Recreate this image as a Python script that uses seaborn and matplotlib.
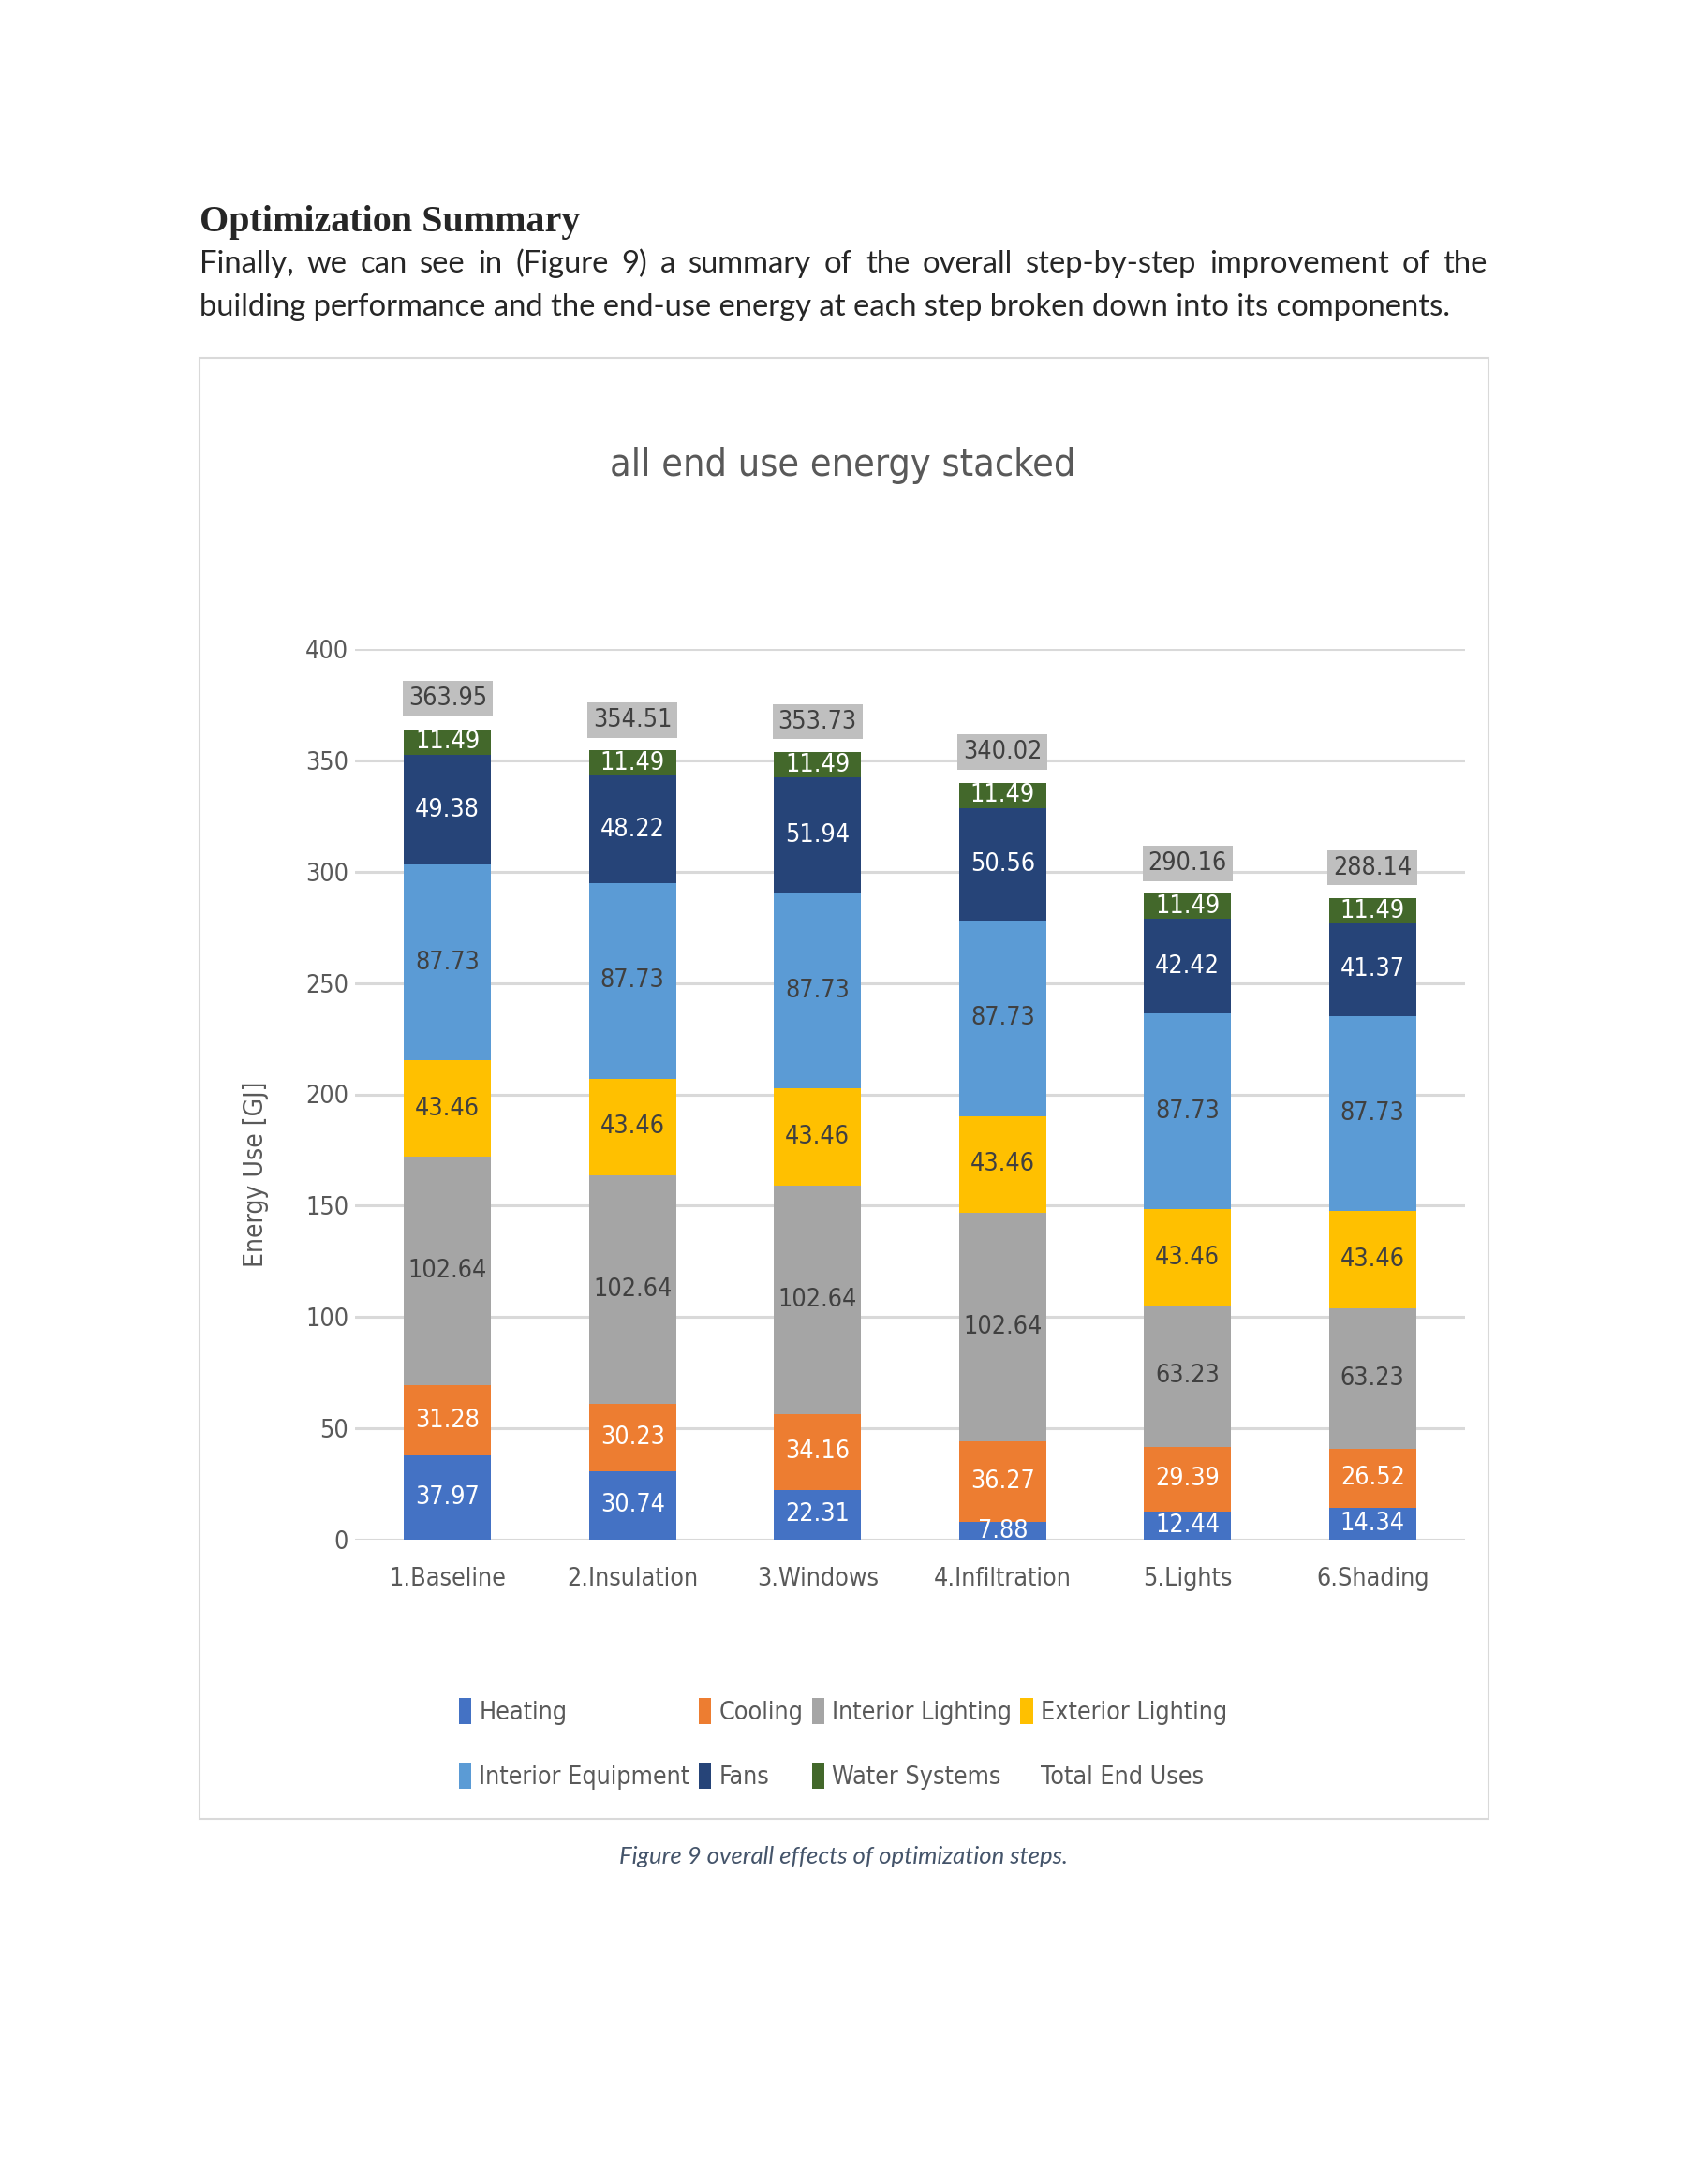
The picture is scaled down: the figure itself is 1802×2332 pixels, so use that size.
import pandas as pd
import matplotlib
matplotlib.use("Agg")
import matplotlib.pyplot as plt
from matplotlib import font_manager as fm
from matplotlib.patches import Patch, Rectangle
import seaborn as sns

# -----------------------------------------------------------
# DATA
# -----------------------------------------------------------
steps = ["1.Baseline", "2.Insulation", "3.Windows", "4.Infiltration", "5.Lights", "6.Shading"]
heating = [37.97, 30.74, 22.31, 7.88, 12.44, 14.34]
cooling = [31.28, 30.23, 34.16, 36.27, 29.39, 26.52]
interior_lighting = [102.64, 102.64, 102.64, 102.64, 63.23, 63.23]
exterior_lighting = [43.46, 43.46, 43.46, 43.46, 43.46, 43.46]
interior_equipment = [87.73, 87.73, 87.73, 87.73, 87.73, 87.73]
fans = [49.38, 48.22, 51.94, 50.56, 42.42, 41.37]
water_systems = [11.49, 11.49, 11.49, 11.49, 11.49, 11.49]
total_end_uses = [363.95, 354.51, 353.73, 340.02, 290.16, 288.14]

components = ["Heating", "Cooling", "Interior Lighting", "Exterior Lighting",
              "Interior Equipment", "Fans", "Water Systems"]
colors = ["#4472C4", "#ED7D31", "#A5A5A5", "#FFC000", "#5B9BD5", "#264478", "#43682B"]
label_colors = ["white", "white", "#404040", "#404040", "#404040", "white", "white"]
yticks = [0, 50, 100, 150, 200, 250, 300, 350, 400]

heading = "Optimization Summary"
line1 = "Finally, we can see in (Figure 9) a summary of the overall step-by-step improvement of the"
line2 = "building performance and the end-use energy at each step broken down into its components."
caption = "Figure 9 overall effects of optimization steps."

df = pd.DataFrame({"step": steps, "Heating": heating, "Cooling": cooling,
                   "Interior Lighting": interior_lighting,
                   "Exterior Lighting": exterior_lighting,
                   "Interior Equipment": interior_equipment,
                   "Fans": fans, "Water Systems": water_systems})
cum = df[components].cumsum(axis=1)

# -----------------------------------------------------------
# FIGURE SETUP
# -----------------------------------------------------------
W, H, DPI = 1802, 2332, 100
sns.set_style("white")

installed = {f.name for f in fm.fontManager.ttflist}
if "Liberation Sans Narrow" in installed:
    chart_family, chart_stretch = "Liberation Sans Narrow", "normal"
else:
    chart_family, chart_stretch = "DejaVu Sans", "condensed"
plt.rcParams["font.family"] = [chart_family, "DejaVu Sans"]
plt.rcParams["font.stretch"] = chart_stretch

fig = plt.figure(figsize=(W / DPI, H / DPI), dpi=DPI)
fig.patch.set_facecolor("white")
renderer = fig.canvas.get_renderer()


def px(x, y):
    # page pixels (top-left origin) -> figure fraction
    return x / W, 1 - y / H


def text_width(s, size, **kw):
    t = fig.text(0, 0, s, fontsize=size, **kw)
    w = t.get_window_extent(renderer).width
    t.remove()
    return w


def fit(s, target, **kw):
    return 10 * target / text_width(s, 10, **kw)


body_kw = dict(family=["Lato", "DejaVu Sans"], stretch="normal")
head_kw = dict(family=["Liberation Serif", "DejaVu Serif"], weight="bold", stretch="normal")
cap_kw = dict(family=["Lato", "DejaVu Sans"], style="italic", stretch="normal")

cs = fit("102.64", 84)
ts = fit("all end use energy stacked", 500)
bs = fit(line2, 1339, **body_kw)
hs = fit(heading, 409, **head_kw)
caps = fit(caption, 479, **cap_kw)
gray = "#595959"

# -----------------------------------------------------------
# PAGE TEXT
# -----------------------------------------------------------
fig.text(*px(213, 247), heading, fontsize=hs, va="baseline", ha="left", **head_kw)

words = line1.split()
widths = [text_width(w, bs, **body_kw) for w in words]
gap = (1375 - sum(widths)) / (len(words) - 1)
x = 213
for w, wd in zip(words, widths):
    fig.text(*px(x, 291), w, fontsize=bs, va="baseline", ha="left", **body_kw)
    x += wd + gap
fig.text(*px(213, 337), line2, fontsize=bs, va="baseline", ha="left", **body_kw)

fig.add_artist(Rectangle(px(213, 1942), 1376 / W, 1560 / H, transform=fig.transFigure,
                         fill=False, edgecolor="#D9D9D9", lw=1.5))
fig.text(*px(900, 497), "all end use energy stacked", fontsize=ts, color=gray,
         ha="center", va="center")
fig.text(*px(900, 1982), caption, fontsize=caps, color="#44546A",
         ha="center", va="center", **cap_kw)

# -----------------------------------------------------------
# STACKED BARS (cumulative totals drawn top layer first)
# -----------------------------------------------------------
ax = fig.add_axes([379 / W, 1 - 1644 / H, 1185 / W, 951 / H])
ax.set_axisbelow(True)
for comp, color in reversed(list(zip(components, colors))):
    sns.barplot(x=df["step"], y=cum[comp], order=steps, color=color, saturation=1,
                width=0.47, errorbar=None, linewidth=0, ax=ax)

for i in range(len(steps)):
    base = 0
    for comp, lc in zip(components, label_colors):
        val = df[comp].iloc[i]
        ax.text(i, base + val / 2, f"{val:.2f}", ha="center", va="center",
                color=lc, fontsize=cs)
        base += val
    ax.annotate(f"{total_end_uses[i]:.2f}", (i, total_end_uses[i]), xytext=(0, 14),
                textcoords="offset points", ha="center", va="bottom", fontsize=cs,
                color="#404040",
                bbox=dict(boxstyle="square,pad=0.22", fc="#BFBFBF", ec="none"))

ax.set_ylim(0, 400)
ax.set_xlim(-0.5, len(steps) - 0.5)
ax.set_yticks(yticks)
ax.yaxis.grid(True, color="#D9D9D9", lw=2.2)
ax.xaxis.grid(False)
for s in ax.spines.values():
    s.set_visible(False)
ax.tick_params(axis="both", length=0, labelsize=cs, colors=gray)
ax.tick_params(axis="y", pad=5)
ax.tick_params(axis="x", pad=21)
ax.set_xlabel("")
ax.set_ylabel("Energy Use [GJ]", fontsize=cs * 1.05, color=gray)
ax.yaxis.set_label_coords(-0.078, 0.41)

# -----------------------------------------------------------
# LEGEND (row-major order like the original)
# -----------------------------------------------------------
handles = [Patch(facecolor=c, edgecolor="none", label=n) for n, c in zip(components, colors)]
handles.append(Patch(facecolor="none", edgecolor="none", label="Total End Uses"))
ordered = [handles[k] for k in [0, 4, 1, 5, 2, 6, 3, 7]]
fig.legend(handles=ordered, loc="center", bbox_to_anchor=px(900, 1862), ncol=4,
           frameon=False, fontsize=cs, labelcolor=gray, handlelength=0.5,
           handleheight=1.2, handletextpad=0.3, columnspacing=0.35, labelspacing=1.5)

fig.savefig("out.png", dpi=DPI, facecolor="white")
